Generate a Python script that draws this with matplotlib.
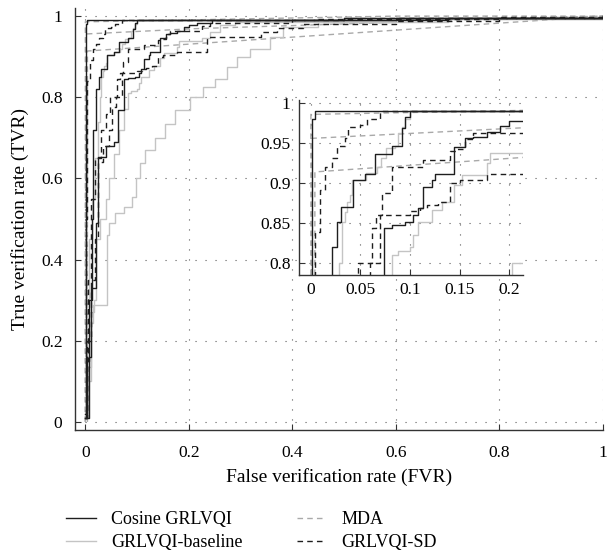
import matplotlib
matplotlib.use("Agg")
import matplotlib.pyplot as plt
from matplotlib.lines import Line2D

plt.rcParams["font.family"] = ["Liberation Serif", "DejaVu Serif"]
plt.rcParams["font.size"] = 12.5

# ROC corner points (FVR, TVR)
cos_a_fvr = [0.0, 0.001, 0.004, 0.5, 1.0]
cos_a_tvr = [0.01, 0.98, 0.99, 0.995, 1.0]
cos_b_fvr = [0.0, 0.004, 0.008, 0.012, 0.015, 0.021, 0.026, 0.030, 0.042, 0.055,
             0.065, 0.082, 0.092, 0.095, 0.100, 0.6, 1.0]
cos_b_tvr = [0.02, 0.15, 0.30, 0.50, 0.72, 0.82, 0.851, 0.870, 0.904, 0.912,
             0.937, 0.947, 0.969, 0.983, 0.990, 0.996, 1.0]
cos_c_fvr = [0.0, 0.008, 0.011, 0.021, 0.025, 0.039, 0.055, 0.063, 0.074, 0.082,
             0.095, 0.103, 0.108, 0.113, 0.122, 0.125, 0.144, 0.155, 0.164, 0.178,
             0.191, 0.200, 0.215, 0.245, 0.7, 1.0]
cos_c_tvr = [0.01, 0.16, 0.33, 0.49, 0.653, 0.68, 0.69, 0.768, 0.844, 0.847,
             0.851, 0.86, 0.869, 0.895, 0.904, 0.912, 0.945, 0.956, 0.958, 0.964,
             0.972, 0.978, 0.983, 0.99, 0.996, 1.0]

base_a_fvr = [0.0, 0.003, 0.008, 0.012, 0.018, 0.024, 0.028, 0.031, 0.034, 0.036,
              0.039, 0.041, 0.056, 0.067, 0.071, 0.076, 0.085, 0.088, 0.092, 0.095,
              0.100, 0.6, 1.0]
base_a_tvr = [0.02, 0.2, 0.45, 0.55, 0.65, 0.74, 0.80, 0.851, 0.864, 0.876,
              0.885, 0.904, 0.9125, 0.92, 0.931, 0.944, 0.947, 0.9625, 0.97, 0.98,
              0.99, 0.996, 1.0]
base_b_fvr = [0.0, 0.003, 0.010, 0.017, 0.020, 0.028, 0.040, 0.045, 0.055, 0.065,
              0.075, 0.082, 0.088, 0.100, 0.103, 0.108, 0.122, 0.132, 0.144, 0.152,
              0.178, 0.181, 0.225, 0.240, 0.260, 0.290, 0.6, 1.0]
base_b_tvr = [0.01, 0.1, 0.27, 0.30, 0.45, 0.50, 0.55, 0.60, 0.66, 0.72,
              0.77, 0.81, 0.815, 0.82, 0.835, 0.851, 0.866, 0.876, 0.8975, 0.91,
              0.925, 0.9375, 0.945, 0.96, 0.978, 0.985, 0.993, 1.0]
base_c_fvr = [0.0, 0.006, 0.010, 0.015, 0.042, 0.045, 0.058, 0.075, 0.091, 0.097,
              0.106, 0.116, 0.135, 0.154, 0.174, 0.203, 0.228, 0.250, 0.274, 0.293,
              0.319, 0.357, 0.382, 0.450, 0.7, 1.0]
base_c_tvr = [0.01, 0.135, 0.244, 0.288, 0.46, 0.49, 0.515, 0.53, 0.555, 0.60,
              0.637, 0.67, 0.70, 0.735, 0.768, 0.80, 0.826, 0.845, 0.875, 0.90,
              0.92, 0.948, 0.973, 0.985, 0.993, 1.0]

sd_a_fvr = [0.0, 0.002, 0.004, 0.009, 0.014, 0.021, 0.026, 0.034, 0.037, 0.050,
            0.057, 0.070, 0.5, 1.0]
sd_a_tvr = [0.02, 0.50, 0.839, 0.891, 0.92, 0.931, 0.947, 0.956, 0.97, 0.9725,
            0.98, 0.99, 0.995, 1.0]
sd_b_fvr = [0.0, 0.003, 0.006, 0.010, 0.018, 0.030, 0.040, 0.048, 0.062, 0.066,
            0.072, 0.082, 0.113, 0.140, 0.147, 0.155, 0.164, 0.225, 0.240, 0.400,
            0.450, 0.8, 1.0]
sd_b_tvr = [0.01, 0.15, 0.35, 0.55, 0.65, 0.72, 0.76, 0.80, 0.844, 0.86,
            0.887, 0.92, 0.929, 0.94, 0.943, 0.955, 0.9625, 0.975, 0.983, 0.99,
            0.993, 0.997, 1.0]
sd_c_fvr = [0.0, 0.004, 0.010, 0.018, 0.025, 0.035, 0.045, 0.052, 0.060, 0.070,
            0.100, 0.110, 0.117, 0.128, 0.140, 0.150, 0.178, 0.235, 0.340, 0.370,
            0.420, 0.6, 0.8, 1.0]
sd_c_tvr = [0.01, 0.2, 0.35, 0.45, 0.64, 0.68, 0.72, 0.776, 0.80, 0.86,
            0.865, 0.869, 0.872, 0.876, 0.90, 0.904, 0.912, 0.948, 0.96, 0.97,
            0.98, 0.988, 0.995, 1.0]

mda_a_fvr = [0.0, 0.001, 0.21, 0.80, 1.0]
mda_a_tvr = [0.0, 0.956, 0.969, 0.993, 1.0]
mda_b_fvr = [0.004, 0.004, 1.0]
mda_b_tvr = [0.0, 0.914, 1.0]
mda_c_fvr = [0.0, 0.0, 0.6, 1.0]
mda_c_tvr = [0.0, 0.986, 1.0, 1.0]

labels = ["Cosine GRLVQI", "GRLVQI-baseline", "MDA", "GRLVQI-SD"]

BLACK = "#1e1e1e"
LIGHT = "#c4c4c4"
MID = "#a9a9a9"
GRID = "#5a5a5a"
DASH = (0, (4, 3))


def draw_curves(ax):
    for fx, ty in [(mda_a_fvr, mda_a_tvr), (mda_b_fvr, mda_b_tvr), (mda_c_fvr, mda_c_tvr)]:
        ax.plot(fx, ty, color=MID, lw=1.0, linestyle=DASH)
    for fx, ty in [(base_a_fvr, base_a_tvr), (base_b_fvr, base_b_tvr), (base_c_fvr, base_c_tvr)]:
        ax.plot(fx, ty, color=LIGHT, lw=1.0, drawstyle="steps-post")
    for fx, ty in [(sd_a_fvr, sd_a_tvr), (sd_b_fvr, sd_b_tvr), (sd_c_fvr, sd_c_tvr)]:
        ax.plot(fx, ty, color=BLACK, lw=1.0, linestyle=DASH, drawstyle="steps-post")
    for fx, ty in [(cos_a_fvr, cos_a_tvr), (cos_b_fvr, cos_b_tvr), (cos_c_fvr, cos_c_tvr)]:
        ax.plot(fx, ty, color=BLACK, lw=1.0, drawstyle="steps-post")


def style_axes(ax):
    for side in ["top", "right"]:
        ax.spines[side].set_visible(False)
    for side in ["left", "bottom"]:
        ax.spines[side].set_color("#333333")
        ax.spines[side].set_linewidth(1.0)
    ax.grid(True, color=GRID, linestyle=(0, (1, 8)), linewidth=0.8)
    ax.tick_params(direction="in", length=4, width=0.8, color="#333333")


fig = plt.figure(figsize=(6.08, 5.56), dpi=100)
ax = fig.add_axes([75 / 608, 126 / 556, 528 / 608, 422 / 556])
draw_curves(ax)
style_axes(ax)
ax.set_xlim(-0.02, 1.0)
ax.set_ylim(-0.02, 1.02)
ax.set_xticks([0, 0.2, 0.4, 0.6, 0.8, 1.0])
ax.set_xticklabels(["0", "0.2", "0.4", "0.6", "0.8", "1"])
ax.set_yticks([0, 0.2, 0.4, 0.6, 0.8, 1.0])
ax.set_yticklabels(["0", "0.2", "0.4", "0.6", "0.8", "1"])
ax.tick_params(axis="x", pad=11)
ax.tick_params(axis="y", pad=9)
ax.set_xlabel("False verification rate (FVR)", fontsize=14)
ax.set_ylabel("True verification rate (TVR)", fontsize=14)
ax.xaxis.set_label_coords(0.5, -0.09)
ax.yaxis.set_label_coords(-0.087, 0.5)

# zoomed inset
axin = fig.add_axes([299 / 608, (556 - 275) / 556, 224 / 608, 175 / 556])
axin.set_facecolor("white")
draw_curves(axin)
style_axes(axin)
axin.set_xlim(-0.012, 0.214)
axin.set_ylim(0.785, 1.004)
axin.set_xticks([0, 0.05, 0.1, 0.15, 0.2])
axin.set_xticklabels(["0", "0.05", "0.1", "0.15", "0.2"])
axin.set_yticks([0.8, 0.85, 0.9, 0.95, 1.0])
axin.set_yticklabels(["0.8", "0.85", "0.9", "0.95", "1"])
axin.tick_params(axis="x", pad=5)
axin.tick_params(axis="y", pad=6)

handles = [
    Line2D([], [], color=BLACK, lw=1.0),
    Line2D([], [], color=LIGHT, lw=1.0),
    Line2D([], [], color=MID, lw=1.0, linestyle=DASH),
    Line2D([], [], color=BLACK, lw=1.0, linestyle=DASH),
]
fig.legend(handles, labels, loc="upper left", bbox_to_anchor=(0.082, 0.11),
           ncol=2, frameon=False, fontsize=13, handlelength=1.65, handletextpad=0.83,
           columnspacing=3.0, labelspacing=0.35, borderpad=0.4)

fig.savefig("out.png", dpi=100)
